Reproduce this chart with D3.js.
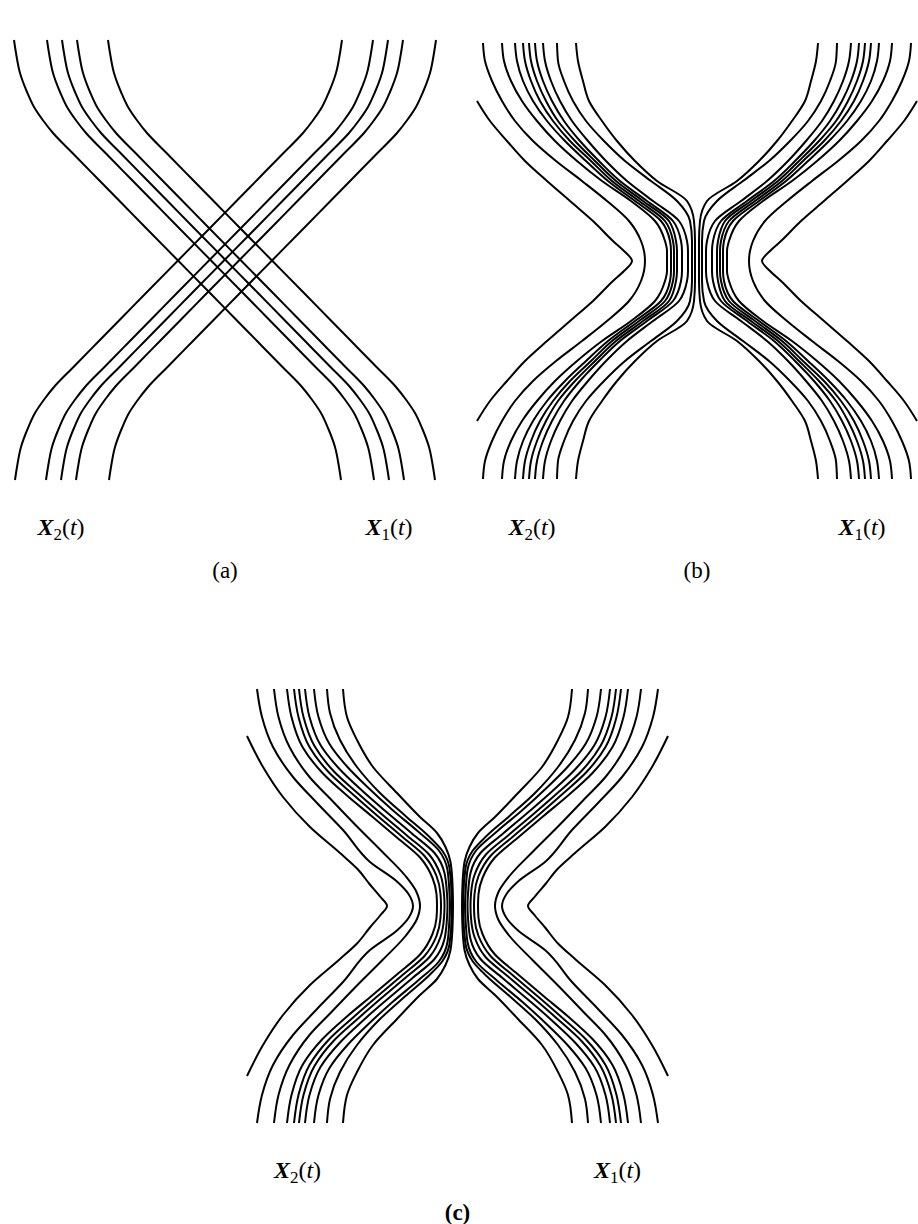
<!DOCTYPE html>
<html><head><meta charset="utf-8">
<script src="https://cdn.jsdelivr.net/npm/d3@7"></script>
<style>html,body{margin:0;padding:0;background:#fff;}</style>
</head><body>
<svg id="fig" width="918" height="1224"></svg>
<script>
// ---------- DATA (x offset, t offset, pixel-like units about each panel centre) ----------
// Panel (a): one X1 trajectory shape (upper half, relative to its own mid point) and the shifts of the 5 trajectories
const aShapeTop = [[-163.5,-220],[-161.5,-207],[-157.5,-187],[-150.5,-168],[-143.5,-153],[-134,-139],
                   [-124.5,-127],[-105,-107],[-81.5,-83],[-56,-57],[-32.5,-33],[0,0]];
const aShifts = [-47.5,-14.5,0.5,15.5,46.5];

// Panel (b): left family (X2), x at each t level, upper half; right family is its mirror image
const bLevels = [-218,-200,-180,-160,-140,-120,-100,-80,-60,-40,-20,-10,0];
const bLeft = [
  [null,null,null,-220,-207,-190,-172,-150,-127,-104,-84,-73,-65],
  [-214,-212,-205,-195,-182,-164,-141,-115,-90,-68,-56,-53,-52],
  [-195,-193,-186,-175,-160,-142,-120,-95,-66,-42,-32,-30,-30],
  [-182,-180,-174,-164,-150,-132,-111,-89,-62,-36,-27,-26,-26],
  [-174,-172,-166,-157,-144,-127,-106,-85,-58,-32,-24,-23,-23],
  [-168,-166,-160,-151,-139,-122,-102,-81,-54,-28,-21,-20,-20],
  [-162,-160,-154,-145,-133,-117,-98,-77,-50,-24,-16,-15,-15],
  [-154,-152,-146,-137,-125,-109,-91,-70,-44,-18,-10,-9,-9],
  [-140,-139,-133,-124,-111,-93,-72,-46,-20,-7,-5,-5,-5],
  [-121,-119,-114,-108,-95,-80,-62,-40,-10,-3,-2,-2,-2]
];

// Panel (c): left family, [x, t] points, upper half; right family is its mirror image
const cLeft = [
  [[-210.5,-170],[-194.5,-139],[-174.5,-109],[-147.5,-79],[-117.5,-53],[-100,-37],[-88,-22],[-77,-9],[-70.5,0]],
  [[-200.5,-217],[-195.5,-189],[-184.5,-159],[-164.5,-129],[-140.5,-103],[-114.5,-76],[-87.5,-44],[-60,-24],[-49,-12],[-44.5,0]],
  [[-183.5,-217],[-179,-189],[-168,-159],[-148,-129],[-126,-106],[-101,-80],[-75,-54],[-52,-30],[-41,-14],[-37.5,0]],
  [[-170.5,-217],[-166,-189],[-155,-159],[-135,-133],[-110,-110],[-86,-90],[-60,-68],[-37,-48],[-25,-28],[-21,-12],[-20.5,0]],
  [[-163.5,-217],[-159,-189],[-148,-159],[-129,-134],[-105,-112],[-81,-91],[-55,-69],[-33,-50],[-21,-30],[-17,-12],[-16.5,0]],
  [[-158.5,-217],[-154,-189],[-143,-160],[-124,-135],[-100,-113],[-76,-92],[-50,-70],[-28,-51],[-17,-31],[-13.5,-12],[-13,0]],
  [[-152.5,-217],[-148,-189],[-137,-161],[-118,-137],[-95,-115],[-71,-94],[-45,-72],[-23,-53],[-13,-33],[-10.5,-12],[-10,0]],
  [[-143.5,-217],[-139,-189],[-128,-162],[-110,-139],[-89,-118],[-65,-96],[-40,-75],[-19,-56],[-10,-36],[-8,-12],[-7.5,0]],
  [[-130.5,-217],[-127.5,-193],[-117.5,-166],[-100.5,-139],[-77.5,-113],[-52,-90],[-29,-70],[-15,-55],[-8,-38],[-6,-12],[-6,0]],
  [[-114.5,-217],[-110.5,-189],[-100.5,-166],[-84.5,-139],[-60.5,-113],[-37.5,-89],[-20.5,-73],[-12,-59],[-7,-44],[-5,-22],[-4.5,0]]
];

const panelNames = ["(a)","(b)","(c)"];
const curveLabels = [{sub:"2"},{sub:"1"}];

// ---------- LAYOUT ----------
const panels = [
  {cx:225,   cy:260, labY:535,  labDX:164, capY:578},
  {cx:697,   cy:261, labY:535,  labDX:165, capY:578},
  {cx:457.5, cy:906, labY:1178, labDX:160, capY:1220}
];

const svg = d3.select("#fig");
const lineGen = (sx, sy) => d3.line().x(d => sx(d[0])).y(d => sy(d[1])).curve(d3.curveMonotoneY);

function scalesFor(p){
  const sx = d3.scaleLinear().domain([-240,240]).range([p.cx-240, p.cx+240]);
  const sy = d3.scaleLinear().domain([-240,240]).range([p.cy-240, p.cy+240]);
  return [sx, sy];
}
function mirrorT(top){ // upper half -> full (reflect in t)
  return top.concat(top.slice(0,-1).reverse().map(([x,t]) => [x,-t]));
}
function drawCurves(g, p, curves){
  const [sx, sy] = scalesFor(p);
  const lg = lineGen(sx, sy);
  g.selectAll("path.tr").data(curves).join("path")
    .attr("class","tr").attr("d", lg)
    .attr("fill","none").attr("stroke","#000").attr("stroke-width",2)
    .attr("stroke-linejoin","round").attr("stroke-linecap","butt");
}

// Panel (a): straight crossing
{
  const x1 = aShifts.map(o => aShapeTop.map(([x,t]) => [x+o,t])
               .concat(aShapeTop.slice(0,-1).reverse().map(([x,t]) => [-x+o,-t])));
  const x2 = x1.map(c => c.map(([x,t]) => [-x,t]));
  drawCurves(svg.append("g"), panels[0], x1.concat(x2));
}
// Panel (b)
{
  const left = bLeft.map(row => mirrorT(bLevels.map((t,i) => [row[i], t]).filter(d => d[0] !== null)));
  const right = left.map(c => c.map(([x,t]) => [-x,t]));
  drawCurves(svg.append("g"), panels[1], left.concat(right));
}
// Panel (c)
{
  const left = cLeft.map(mirrorT);
  const right = left.map(c => c.map(([x,t]) => [-x,t]));
  drawCurves(svg.append("g"), panels[2], left.concat(right));
}

// ---------- TEXT ----------
panels.forEach((p, k) => {
  curveLabels.forEach((lab, j) => {
    const x = j === 0 ? p.cx - p.labDX : p.cx + p.labDX;
    const t = svg.append("text").attr("x", x).attr("y", p.labY)
      .attr("text-anchor","middle").attr("font-family","'Liberation Serif','DejaVu Serif',serif")
      .attr("font-size",24).attr("fill","#000");
    t.append("tspan").attr("font-style","italic").attr("font-weight","bold").text("X");
    t.append("tspan").attr("font-size",17).attr("dy",5).text(lab.sub);
    t.append("tspan").attr("dy",-5).text("(");
    t.append("tspan").attr("font-style","italic").text("t");
    t.append("tspan").text(")");
  });
  svg.append("text").attr("x", p.cx).attr("y", p.capY)
    .attr("text-anchor","middle").attr("font-family","'Liberation Serif','DejaVu Serif',serif")
    .attr("font-size",23).attr("font-weight", k === 2 ? "bold" : "normal").attr("fill","#000")
    .text(panelNames[k]);
});
</script>
</body></html>
